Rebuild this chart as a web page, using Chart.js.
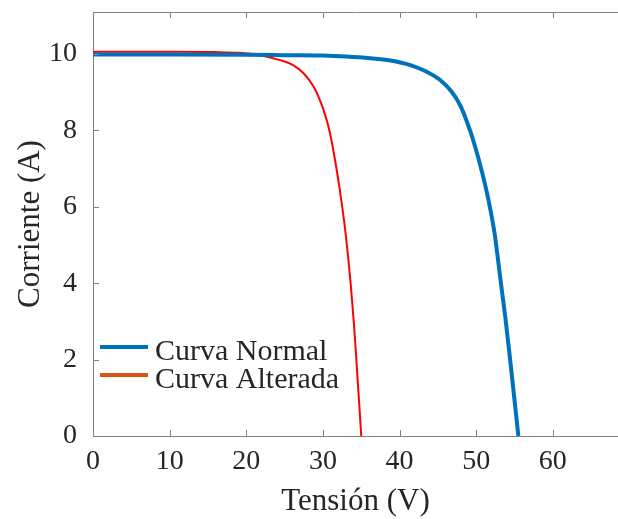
<!DOCTYPE html>
<html>
<head>
<meta charset="utf-8">
<script src="https://cdn.jsdelivr.net/npm/chart.js@4.4.0/dist/chart.umd.min.js"></script>
<style>
  html, body { margin: 0; padding: 0; background: #fff; }
  #wrap { width: 618px; height: 519px; }
</style>
</head>
<body>
<div id="wrap"><canvas id="iv"></canvas></div>
<script>
// ── Data ──────────────────────────────────────────────────
const vNormal   = [0, 10, 20, 25, 30, 33, 36.2, 38.8, 41.4, 43.5, 45.3, 46.8, 47.9, 48.8, 49.6, 50.8, 51.6, 52.4, 53.1, 53.8, 54.4, 55.5];
const iNormal   = [9.99, 9.99, 9.98, 9.97, 9.96, 9.935, 9.89, 9.83, 9.71, 9.54, 9.32, 9.01, 8.66, 8.22, 7.75, 6.88, 6.18, 5.3, 4.2, 3.1, 2.05, 0];
const vAlterada = [0, 10, 16, 19, 21.8, 24.4, 26.1, 27.5, 28.8, 29.6, 30.3, 30.9, 31.6, 32.2, 32.9, 33.5, 34.2, 35];
const iAlterada = [10.06, 10.06, 10.05, 10.03, 9.97, 9.84, 9.71, 9.49, 9.14, 8.79, 8.4, 7.95, 7.2, 6.45, 5.4, 4.25, 2.5, 0];
const xTicks = [0, 10, 20, 30, 40, 50, 60];
const yTicks = [0, 2, 4, 6, 8, 10];
const labels = ['Curva Normal', 'Curva Alterada'];

const C = {
  blue: '#0072BD',
  red: '#FF0000',
  orange: '#D95319',
  axis: '#808080',
  text: '#262626',
  font: '"Liberation Serif", serif',
};

const pts = (xs, ys) => xs.map((x, i) => ({ x, y: ys[i] }));

// inward ticks, top border and in-plot legend
const frame = {
  id: 'frame',
  afterDraw(chart) {
    const { ctx, chartArea: a, scales: { x, y } } = chart;
    ctx.save();
    ctx.strokeStyle = C.axis;
    ctx.lineWidth = 1;
    ctx.beginPath();
    ctx.moveTo(a.left, a.top + 0.5); ctx.lineTo(a.right, a.top + 0.5);
    xTicks.forEach(v => {
      const px = Math.round(x.getPixelForValue(v)) + 0.5;
      ctx.moveTo(px, a.bottom); ctx.lineTo(px, a.bottom - 6);
      ctx.moveTo(px, a.top); ctx.lineTo(px, a.top + 6);
    });
    yTicks.forEach(v => {
      const py = Math.round(y.getPixelForValue(v)) + 0.5;
      ctx.moveTo(a.left, py); ctx.lineTo(a.left + 6, py);
    });
    ctx.stroke();

    // legend
    const cols = [C.blue, C.orange];
    ctx.font = '30px ' + C.font;
    ctx.textBaseline = 'alphabetic';
    ctx.fillStyle = C.text;
    labels.forEach((t, i) => {
      const ly = 347 + i * 28;
      ctx.strokeStyle = cols[i];
      ctx.lineWidth = 4;
      ctx.beginPath();
      ctx.moveTo(100, ly); ctx.lineTo(148, ly);
      ctx.stroke();
      ctx.fillText(t, 155, ly + 13);
    });
    ctx.restore();
  }
};

const tickFont = { family: C.font, size: 28 };
const titleFont = { family: C.font, size: 31 };

new Chart(document.getElementById('iv'), {
  type: 'scatter',
  data: {
    datasets: [
      { label: labels[0], data: pts(vNormal, iNormal), showLine: true, borderColor: C.blue, borderWidth: 4, pointRadius: 0, cubicInterpolationMode: 'monotone' },
      { label: labels[1], data: pts(vAlterada, iAlterada), showLine: true, borderColor: C.red, borderWidth: 2, pointRadius: 0, cubicInterpolationMode: 'monotone' },
    ]
  },
  options: {
    responsive: true, maintainAspectRatio: false, animation: false,
    layout: { padding: { top: 12, right: 0, left: 0, bottom: 0 } },
    plugins: { legend: { display: false }, tooltip: { enabled: false } },
    scales: {
      x: {
        type: 'linear', min: 0, max: 68.5,
        afterBuildTicks: s => { s.ticks = xTicks.map(v => ({ value: v })); },
        afterFit: s => { s.height = 83; s.paddingLeft = 0; s.paddingRight = 0; },
        grid: { display: false },
        border: { color: C.axis, width: 1 },
        ticks: { color: C.text, font: tickFont, padding: 1 },
        title: { display: true, text: 'Tensión (V)', color: C.text, font: titleFont, padding: { top: 0, bottom: -1 } },
      },
      y: {
        type: 'linear', min: 0, max: 11.1,
        afterBuildTicks: s => { s.ticks = yTicks.map(v => ({ value: v })); },
        afterFit: s => { s.width = 93; s.paddingTop = 0; s.paddingBottom = 0; },
        grid: { display: false },
        border: { color: C.axis, width: 1 },
        ticks: { color: C.text, font: tickFont, padding: 8 },
        title: { display: true, text: 'Corriente (A)', color: C.text, font: titleFont, padding: { top: 12, bottom: 0 } },
      },
    }
  },
  plugins: [frame]
});
</script>
</body>
</html>
